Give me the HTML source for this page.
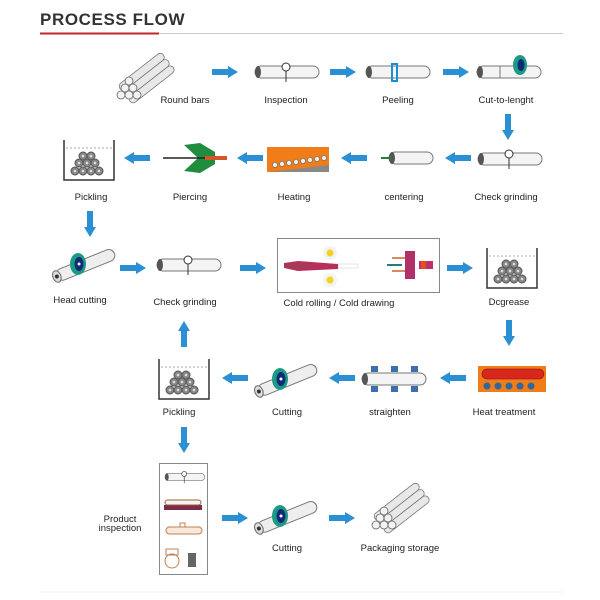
<!DOCTYPE html>
<html><head><meta charset="utf-8"><style>
html,body{margin:0;padding:0;background:#fff;width:600px;height:600px;overflow:hidden}
svg{display:block}
text{font-family:"Liberation Sans",Arial,sans-serif;font-size:9.5px;fill:#222}
</style></head><body>
<svg width="600" height="600" viewBox="0 0 600 600" xmlns="http://www.w3.org/2000/svg">
<defs>
<g id="ar"><rect x="-13" y="-3" width="16" height="6" fill="#2b8fd4"/><polygon points="3,-6 13,0 3,6" fill="#2b8fd4"/></g>
<g id="pipe"><rect x="0" y="-6" width="64" height="12" rx="6" fill="#f4f4f4" stroke="#777" stroke-width="1"/><ellipse cx="3" cy="0" rx="3" ry="6" fill="#555"/></g>
<g id="insp"><use href="#pipe"/><line x1="31" y1="-3" x2="31" y2="10" stroke="#333"/><circle cx="31" cy="-5" r="4" fill="#fff" stroke="#333"/></g>
<g id="cutter"><g transform="rotate(-22)"><rect x="-12" y="-6" width="62" height="12" rx="6" fill="#eee" stroke="#777"/><ellipse cx="-12" cy="0" rx="4" ry="6" fill="#ddd" stroke="#666"/><circle cx="-12" cy="0" r="2" fill="#333"/></g><ellipse cx="10" cy="-8" rx="8" ry="11" fill="#1c9a84"/><ellipse cx="11" cy="-8" rx="4.5" ry="7" fill="#102a7a"/><circle cx="11" cy="-8" r="1.5" fill="#fff"/></g>
<g id="tank"><path d="M0,0 V40 H50 V0" fill="none" stroke="#333" stroke-width="1.5"/><line x1="2" y1="8" x2="48" y2="8" stroke="#aaa" stroke-dasharray="2,2"/>
<g fill="#888" stroke="#555"><circle cx="19" cy="16" r="4"/><circle cx="27" cy="16" r="4"/><circle cx="15" cy="23" r="4"/><circle cx="23" cy="23" r="4"/><circle cx="31" cy="23" r="4"/><circle cx="11" cy="31" r="4"/><circle cx="19" cy="31" r="4"/><circle cx="27" cy="31" r="4"/><circle cx="35" cy="31" r="4"/></g>
<g fill="#ddd"><circle cx="19" cy="16" r="1.3"/><circle cx="27" cy="16" r="1.3"/><circle cx="15" cy="23" r="1.3"/><circle cx="23" cy="23" r="1.3"/><circle cx="31" cy="23" r="1.3"/><circle cx="11" cy="31" r="1.3"/><circle cx="19" cy="31" r="1.3"/><circle cx="27" cy="31" r="1.3"/><circle cx="35" cy="31" r="1.3"/></g></g>
<g id="bundle"><g fill="#e8e8e8" stroke="#777" stroke-width="0.8"><g transform="rotate(-38)"><rect x="0" y="-4" width="55" height="8" rx="4"/><rect x="0" y="4" width="55" height="8" rx="4"/><rect x="0" y="-12" width="55" height="8" rx="4"/></g></g>
<g fill="#f2f2f2" stroke="#666" stroke-width="0.8"><circle cx="-4" cy="0" r="4"/><circle cx="4" cy="0" r="4"/><circle cx="12" cy="0" r="4"/><circle cx="0" cy="-7" r="4"/><circle cx="8" cy="-7" r="4"/><circle cx="4" cy="-14" r="4"/></g></g>
</defs>

<text x="40" y="25" style="font-size:17px;font-weight:bold;fill:#333;letter-spacing:0.6px">PROCESS FLOW</text>
<line x1="40" y1="33.5" x2="563" y2="33.5" stroke="#ccc" stroke-width="1"/>
<line x1="40" y1="33.5" x2="159" y2="33.5" stroke="#c0262c" stroke-width="2"/>

<!-- Row 1 -->
<g transform="translate(125,95)"><use href="#bundle"/></g>
<use href="#ar" x="225" y="72"/><use href="#ar" x="343" y="72"/><use href="#ar" x="456" y="72"/>
<use href="#insp" x="255" y="72"/>
<use href="#pipe" x="366" y="72"/><rect x="392" y="64" width="5" height="17" fill="none" stroke="#1a8ed0" stroke-width="2"/>
<use href="#pipe" x="477" y="72"/><line x1="500" y1="66" x2="500" y2="78" stroke="#777"/><ellipse cx="520" cy="65" rx="7" ry="10" fill="#1c9a84"/><ellipse cx="521" cy="65" rx="3.5" ry="6" fill="#102a7a"/>
<text x="185" y="103" text-anchor="middle">Round bars</text>
<text x="286" y="103" text-anchor="middle">Inspection</text>
<text x="398" y="103" text-anchor="middle">Peeling</text>
<text x="506" y="103" text-anchor="middle">Cut-to-lenght</text>
<use href="#ar" transform="translate(508,127) rotate(90)"/>

<!-- Row 2 -->
<use href="#insp" x="478" y="159"/>
<use href="#ar" transform="translate(458,158) rotate(180)"/>
<rect x="389" y="152" width="44" height="12" rx="6" fill="#f4f4f4" stroke="#777"/><ellipse cx="392" cy="158" rx="3" ry="6" fill="#555"/>
<line x1="381" y1="158" x2="392" y2="158" stroke="#2a7a3a" stroke-width="2"/>
<use href="#ar" transform="translate(354,158) rotate(180)"/>
<rect x="267" y="147" width="62" height="25" fill="#f07c1a"/><polygon points="270,172 329,165 329,172" fill="#888"/>
<g fill="#eee" stroke="#666" stroke-width="0.6"><circle cx="275" cy="165" r="2.5"/><circle cx="282" cy="164" r="2.5"/><circle cx="289" cy="163" r="2.5"/><circle cx="296" cy="162" r="2.5"/><circle cx="303" cy="161" r="2.5"/><circle cx="310" cy="160" r="2.5"/><circle cx="317" cy="159" r="2.5"/><circle cx="324" cy="158" r="2.5"/></g>
<use href="#ar" transform="translate(250,158) rotate(180)"/>
<path d="M184,145 L200,143 L215,152 L215,158 L198,158 Z M184,171 L200,173 L215,164 L215,158 L198,158 Z" fill="#1f8c3e"/>
<line x1="163" y1="158" x2="208" y2="158" stroke="#222" stroke-width="1.5"/><rect x="205" y="156" width="22" height="4" fill="#d2562a"/>
<use href="#ar" transform="translate(137,158) rotate(180)"/>
<use href="#tank" x="64" y="140"/>
<text x="91" y="200" text-anchor="middle">Pickling</text>
<text x="190" y="200" text-anchor="middle">Piercing</text>
<text x="294" y="200" text-anchor="middle">Heating</text>
<text x="404" y="200" text-anchor="middle">centering</text>
<text x="506" y="200" text-anchor="middle">Check grinding</text>
<use href="#ar" transform="translate(90,224) rotate(90)"/>

<!-- Row 3 -->
<use href="#cutter" x="68" y="272"/>
<use href="#ar" x="133" y="268"/>
<use href="#insp" x="157" y="265"/>
<use href="#ar" x="253" y="268"/>
<rect x="277.5" y="238.5" width="162" height="54" fill="#fff" stroke="#888"/>
<circle cx="330" cy="253" r="7" fill="#f3f3f3"/><circle cx="330" cy="253" r="3.5" fill="#f2d21a"/>
<circle cx="330" cy="280" r="7" fill="#f3f3f3"/><circle cx="330" cy="280" r="3.5" fill="#f2d21a"/>
<rect x="338" y="264" width="20" height="4" fill="#fff" stroke="#ccc" stroke-width="0.5"/>
<polygon points="284,263 298,261 338,264 338,269 298,271 284,268" fill="#b8305a"/><line x1="284" y1="266" x2="310" y2="266" stroke="#7a5050" stroke-width="1.5"/>
<line x1="387" y1="265" x2="402" y2="265" stroke="#1f7f7f" stroke-width="2"/><line x1="392" y1="258" x2="405" y2="258" stroke="#c86428" stroke-width="1.5"/><line x1="392" y1="271" x2="405" y2="271" stroke="#c86428" stroke-width="1.5"/>
<rect x="405" y="251" width="10" height="28" fill="#b0306a"/><rect x="419" y="261" width="14" height="8" fill="#c0306a"/><rect x="421" y="261" width="5" height="8" fill="#e05020"/>
<use href="#ar" transform="translate(460,268)"/>
<use href="#tank" x="487" y="248"/>
<text x="80" y="303" text-anchor="middle">Head cutting</text>
<text x="185" y="305" text-anchor="middle">Check grinding</text>
<text x="339" y="306" text-anchor="middle">Cold rolling / Cold drawing</text>
<text x="509" y="305" text-anchor="middle">Dcgrease</text>
<use href="#ar" transform="translate(509,333) rotate(90)"/>
<use href="#ar" transform="translate(184,334) rotate(-90)"/>

<!-- Row 4 -->
<rect x="478" y="366" width="68" height="26" fill="#f07c1a"/><rect x="482" y="369" width="62" height="10" rx="5" fill="#d8281e" stroke="#801010" stroke-width="0.6"/>
<g fill="#336699"><circle cx="487" cy="386" r="3.5"/><circle cx="498" cy="386" r="3.5"/><circle cx="509" cy="386" r="3.5"/><circle cx="520" cy="386" r="3.5"/><circle cx="531" cy="386" r="3.5"/></g>
<use href="#ar" transform="translate(453,378) rotate(180)"/>
<use href="#pipe" x="362" y="379"/>
<g fill="#3b6fb0"><rect x="371" y="366" width="7" height="6"/><rect x="391" y="366" width="7" height="6"/><rect x="411" y="366" width="7" height="6"/><rect x="371" y="386" width="7" height="6"/><rect x="391" y="386" width="7" height="6"/><rect x="411" y="386" width="7" height="6"/></g>
<use href="#ar" transform="translate(342,378) rotate(180)"/>
<use href="#cutter" x="270" y="387"/>
<use href="#ar" transform="translate(235,378) rotate(180)"/>
<use href="#tank" x="159" y="359"/>
<text x="179" y="415" text-anchor="middle">Pickling</text>
<text x="287" y="415" text-anchor="middle">Cutting</text>
<text x="390" y="415" text-anchor="middle">straighten</text>
<text x="504" y="415" text-anchor="middle">Heat treatment</text>
<use href="#ar" transform="translate(184,440) rotate(90)"/>

<!-- Row 5 -->
<rect x="159.5" y="463.5" width="48" height="111" fill="#fff" stroke="#888"/>
<g transform="translate(165,477) scale(0.62)"><use href="#insp"/></g>
<rect x="164" y="505" width="38" height="5" fill="#7a2a4a"/><rect x="165" y="500" width="36" height="5" rx="2.5" fill="#f4f4f4" stroke="#a06030"/>
<rect x="166" y="527" width="36" height="7" rx="3.5" fill="#f8e8dc" stroke="#c08050"/><rect x="180" y="523" width="5" height="4" fill="#fff" stroke="#c08050"/>
<circle cx="172" cy="561" r="7" fill="none" stroke="#c08050"/><rect x="166" y="549" width="12" height="6" fill="none" stroke="#c08050"/>
<rect x="188" y="553" width="8" height="14" fill="#666"/>
<text x="120" y="522" text-anchor="middle">Product</text>
<text x="120" y="531" text-anchor="middle">inspection</text>
<use href="#ar" x="235" y="518"/>
<use href="#cutter" x="270" y="524"/>
<use href="#ar" x="342" y="518"/>
<g transform="translate(380,525)"><use href="#bundle"/></g>
<text x="287" y="551" text-anchor="middle">Cutting</text>
<text x="400" y="551" text-anchor="middle">Packaging storage</text>
<line x1="40" y1="592" x2="563" y2="592" stroke="#f0f0f0"/>
</svg>
</body></html>
